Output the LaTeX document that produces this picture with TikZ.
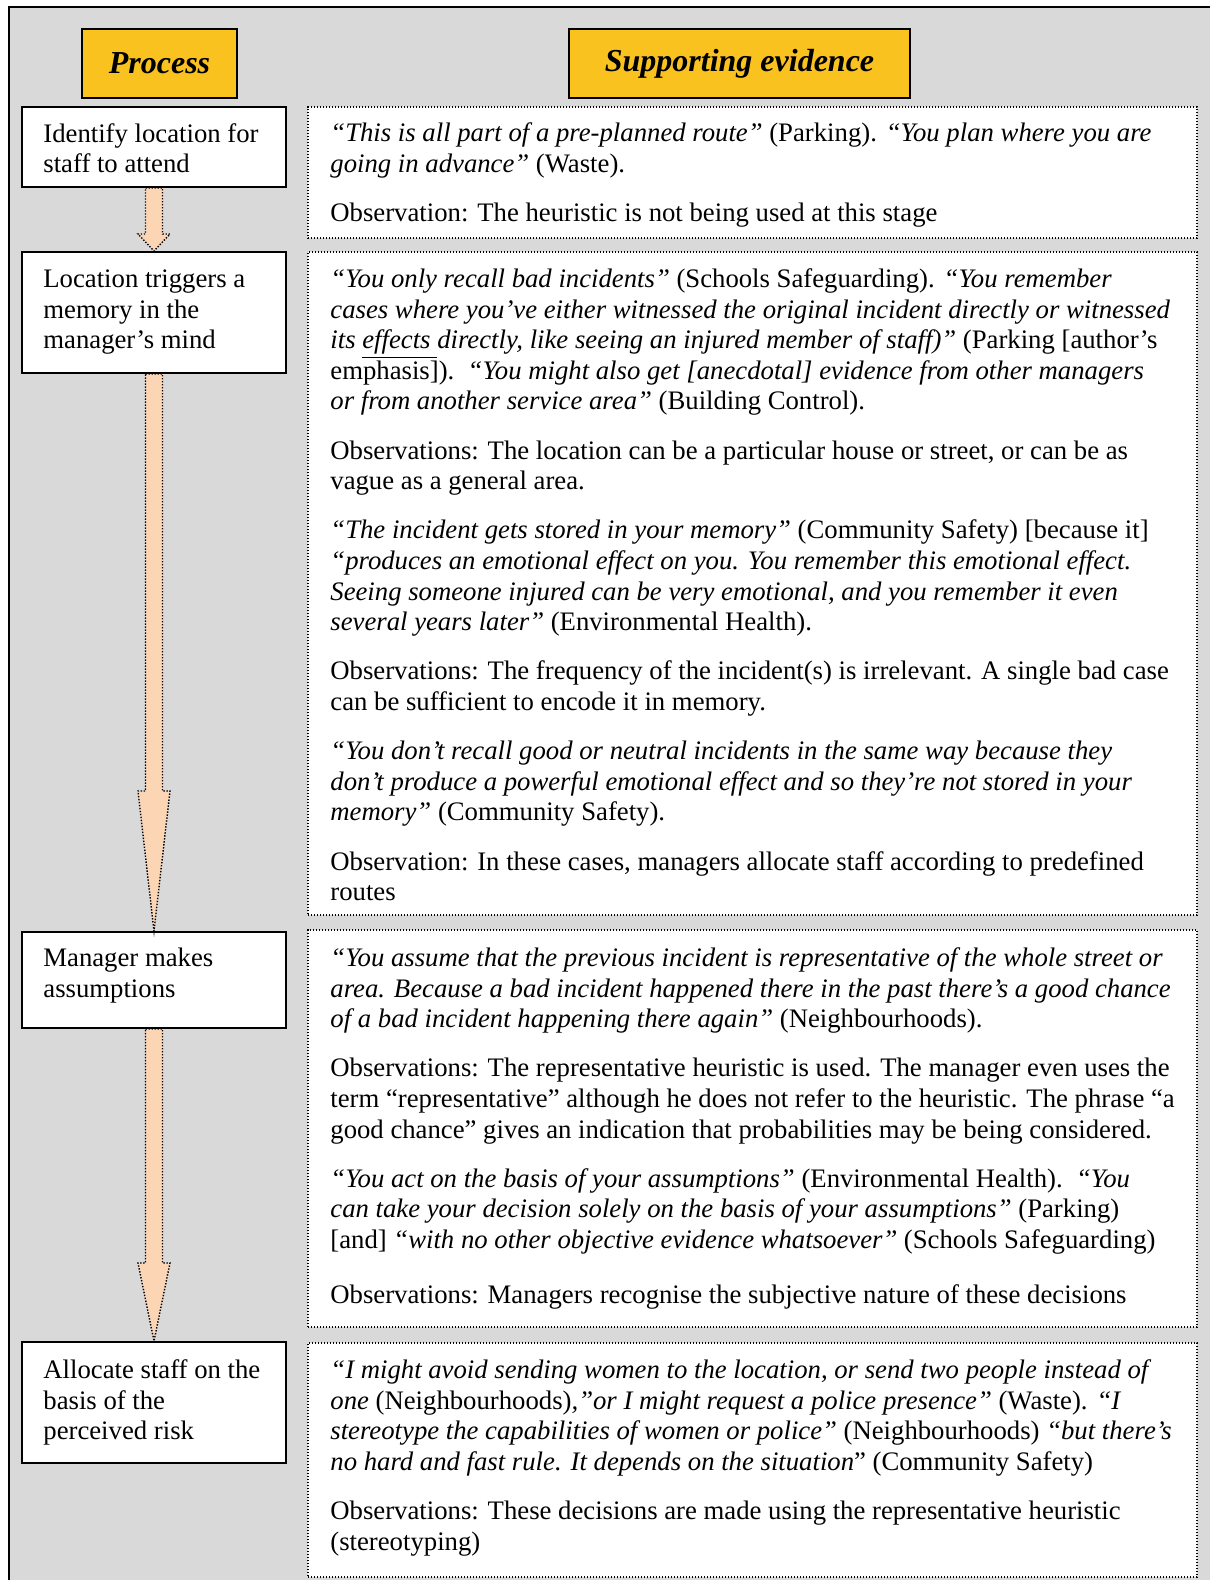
\documentclass[tikz,border=0pt]{standalone}
\usepackage{fontspec}
\setmainfont{Liberation Serif}
\usetikzlibrary{calc}
\definecolor{panelgray}{HTML}{D9D9D9}
\definecolor{headgold}{HTML}{F9C21F}
\definecolor{arrowpeach}{HTML}{FCD5B4}
% a block of body text whose first baseline sits on the node's base anchor
\newcommand\evtext[2]{\parbox[t]{#1}{\fontsize{13.36}{15.3}\selectfont\raggedright #2}}
% extra space between paragraphs
\newcommand\evgap{\\[9.3pt]}
% block arrow from the bottom of one box to the top of the next
\newcommand\flowarrow[3]{%
  \draw[blockarrow] ($(#1.south)+(-8.5,0)$) -- ($(#1.south)+(8.5,0)$)
    -- ($(#2.north)+(8.5,-#3)$) -- ($(#2.north)+(16,-#3)$) -- (#2.north)
    -- ($(#2.north)+(-16,-#3)$) -- ($(#2.north)+(-8.5,-#3)$) -- cycle;}
\begin{document}
\begin{tikzpicture}[x=0.5pt,y=-0.5pt,
  headbox/.style={draw=black, line width=1pt, fill=headgold, inner sep=0pt,
    font=\fontsize{16}{19}\selectfont\bfseries\itshape},
  procbox/.style={draw=black, line width=1pt, fill=white, inner sep=0pt,
    minimum width=132pt},
  evbox/.style={draw=black, line width=0.7pt, dash pattern=on 0.7pt off 0.8pt,
    fill=white, inner sep=0pt, minimum width=444.5pt},
  blockarrow/.style={draw=black, line width=0.7pt, dash pattern=on 0.7pt off 0.8pt,
    fill=arrowpeach},
  bodytext/.style={anchor=base west, inner sep=0pt}
]
\useasboundingbox (0,0) rectangle (1210,1580);
\begin{scope}
  \clip (0,0) rectangle (1210,1580);
  \path[fill=panelgray, draw=black, line width=1.25pt] (9,7) rectangle (1240,1610);
\end{scope}

% column headings
\node[headbox, minimum width=77.5pt, minimum height=34.5pt] (hproc) at (159.5,63.5) {Process};
\node[headbox, minimum width=170.5pt, minimum height=34.5pt] (hevid) at (739.5,63.5) {Supporting evidence};

% process steps
\node[procbox, minimum height=40pt]   (p1) at (154,147) {};
\node[procbox, minimum height=60.5pt] (p2) at (154,312.5) {};
\node[procbox, minimum height=48pt]   (p3) at (154,980) {};
\node[procbox, minimum height=60.5pt] (p4) at (154,1402.5) {};

\node[bodytext] (p1t) at (43,142) {\evtext{125pt}{Identify location for\\staff to attend}};
\node[bodytext] (p2t) at (43,287.5) {\evtext{125pt}{Location triggers a\\memory in the\\manager’s mind}};
\node[bodytext] (p3t) at (43,966.5) {\evtext{125pt}{Manager makes\\assumptions}};
\node[bodytext] (p4t) at (43,1378.5) {\evtext{125pt}{Allocate staff on the\\basis of the\\perceived risk}};

% arrows between steps
\flowarrow{p1}{p2}{17}
\flowarrow{p2}{p3}{140}
\flowarrow{p3}{p4}{78}

% evidence panels
\node[evbox, minimum height=65.5pt]  (e1) at (752.5,172.5) {};
\node[evbox, minimum height=331.5pt] (e2) at (752.5,583.5) {};
\node[evbox, minimum height=198.5pt] (e3) at (752.5,1128.5) {};
\node[evbox, minimum height=117pt]   (e4) at (752.5,1460) {};

\node[bodytext] (e1t) at (330,141.5) {\evtext{440pt}{%
\textit{“This is all part of a pre-planned route”} (Parking). \textit{“You plan where you are}\\
\textit{going in advance”} (Waste).\evgap
Observation: The heuristic is not being used at this stage}};

\node[bodytext] (e2t) at (330,287.5) {\evtext{440pt}{%
\textit{“You only recall bad incidents”} (Schools Safeguarding). \textit{“You remember}\\
\textit{cases where you’ve either witnessed the original incident directly or witnessed}\\
\textit{its \underline{effects\ }directly, like seeing an injured member of staff)”} (Parking [author’s\\
emphasis]).\ \ \textit{“You might also get [anecdotal] evidence from other managers}\\
\textit{or from another service area”} (Building Control).\evgap
Observations: The location can be a particular house or street, or can be as\\
vague as a general area.\evgap
\textit{“The incident gets stored in your memory”} (Community Safety) [because it]\\
\textit{“produces an emotional effect on you. You remember this emotional effect.}\\
\textit{Seeing someone injured can be very emotional, and you remember it even}\\
\textit{several years later”} (Environmental Health).\evgap
Observations: The frequency of the incident(s) is irrelevant. A single bad case\\
can be sufficient to encode it in memory.\evgap
\textit{“You don’t recall good or neutral incidents in the same way because they}\\
\textit{don’t produce a powerful emotional effect and so they’re not stored in your}\\
\textit{memory”} (Community Safety).\evgap
Observation: In these cases, managers allocate staff according to predefined\\
routes}};

\node[bodytext] (e3t) at (330,966.5) {\evtext{440pt}{%
\textit{“You assume that the previous incident is representative of the whole street or}\\
\textit{area. Because a bad incident happened there in the past there’s a good chance}\\
\textit{of a bad incident happening there again”} (Neighbourhoods).\evgap
Observations: The representative heuristic is used. The manager even uses the\\
term “representative” although he does not refer to the heuristic. The phrase “a\\
good chance” gives an indication that probabilities may be being considered.\evgap
\textit{“You act on the basis of your assumptions”} (Environmental Health).\ \ \textit{“You}\\
\textit{can take your decision solely on the basis of your assumptions”} (Parking)\\
{[and]} \textit{“with no other objective evidence whatsoever”} (Schools Safeguarding)\\[12.3pt]
Observations: Managers recognise the subjective nature of these decisions}};

\node[bodytext] (e4t) at (330,1378.5) {\evtext{440pt}{%
\textit{“I might avoid sending women to the location, or send two people instead of}\\
\textit{one} (Neighbourhoods)\textit{,”or I might request a police presence”} (Waste). \textit{“I}\\
\textit{stereotype the capabilities of women or police”} (Neighbourhoods) \textit{“but there’s}\\
\textit{no hard and fast rule. It depends on the situation}” (Community Safety)\evgap
Observations: These decisions are made using the representative heuristic\\
(stereotyping)}};
\end{tikzpicture}
\end{document}
